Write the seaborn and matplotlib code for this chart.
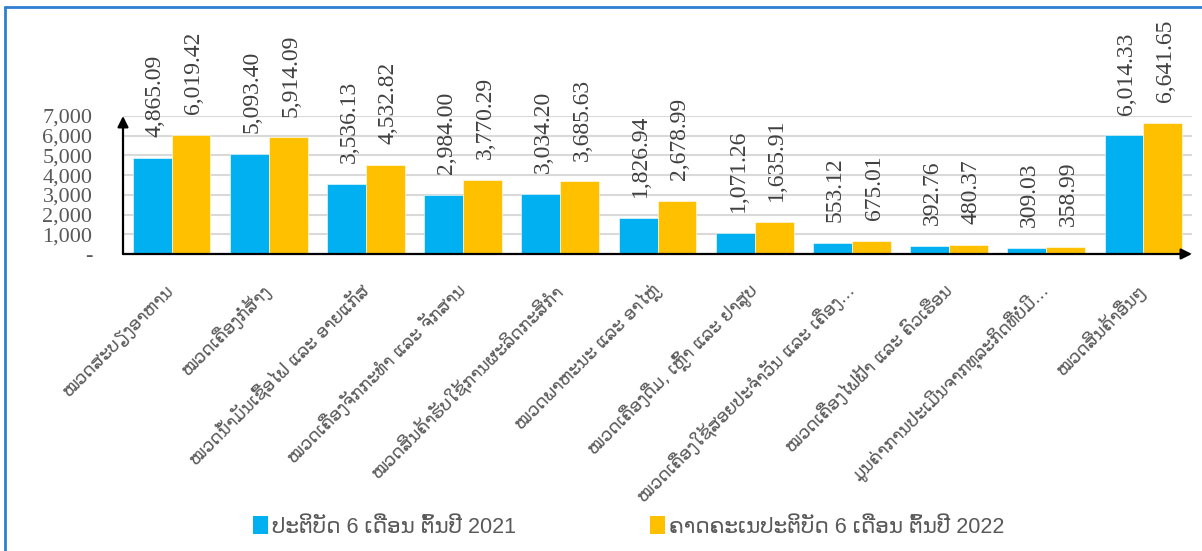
import matplotlib
matplotlib.use('Agg')
import matplotlib.pyplot as plt
from matplotlib.lines import Line2D
from matplotlib.patches import Patch
import seaborn as sns
import pandas as pd

# data
categories = [
    'ໝວດສະບຽງອາຫານ',
    'ໝວດເຄື່ອງກໍ່ສ້າງ',
    'ໝວດນ້ຳມັນເຊື້ອໄຟ ແລະ ອາຍແກັສ',
    'ໝວດເຄື່ອງຈັກກະທຳ ແລະ ຈັກສານ',
    'ໝວດສິນຄ້າຮັບໃຊ້ການຜະລິດກະສິກຳ',
    'ໝວດພາຫະນະ ແລະ ອາໄຫຼ່',
    'ໝວດເຄື່ອງດື່ມ, ເຫຼົ້າ ແລະ ຢາສູບ',
    'ໝວດເຄື່ອງໃຊ້ສອຍປະຈຳວັນ ແລະ ເຄື່ອງ…',
    'ໝວດເຄື່ອງໄຟຟ້າ ແລະ ຄົວເຮືອນ',
    'ມູນຄ່າການປະເມີນຈາກທຸລະກິດທີ່ບໍ່ມີ…',
    'ໝວດສິນຄ້າອື່ນໆ',
]
series_names = ['ປະຕິບັດ 6 ເດືອນ ຕົ້ນປີ 2021', 'ຄາດຄະເນປະຕິບັດ 6 ເດືອນ ຕົ້ນປີ 2022']
values_2021 = [4865.09, 5093.40, 3536.13, 2984.00, 3034.20, 1826.94, 1071.26, 553.12, 392.76, 309.03, 6014.33]
values_2022 = [6019.42, 5914.09, 4532.82, 3770.29, 3685.63, 2678.99, 1635.91, 675.01, 480.37, 358.99, 6641.65]
y_ticks = [0, 1000, 2000, 3000, 4000, 5000, 6000, 7000]
colors = ['#00B0F0', '#FFC000']

df = pd.DataFrame({
    'category': categories * 2,
    'value': values_2021 + values_2022,
    'series': [series_names[0]] * len(categories) + [series_names[1]] * len(categories),
})

sns.set_theme(style='white')
plt.rcParams['font.family'] = ['Liberation Sans', 'DejaVu Sans']
plt.rcParams['axes.unicode_minus'] = False

W, H = 1202, 551
fig = plt.figure(figsize=(W / 100, H / 100), dpi=100)
ax = fig.add_axes([123 / W, 1 - 254 / H, (1192 - 123) / W, (254 - 116) / H])

sns.barplot(data=df, x='category', y='value', hue='series', palette=colors,
            width=0.8, ax=ax, legend=False, edgecolor='white', linewidth=0.4,
            saturation=1)

ax.set_xlim(-0.5, len(categories) - 0.5)
ax.set_ylim(0, 7000)
ax.set_xlabel('')
ax.set_ylabel('')

# gridlines
ax.set_yticks(y_ticks)
ax.yaxis.grid(True, color='#d9d9d9', linewidth=1.5)
ax.set_axisbelow(True)
for s in ax.spines.values():
    s.set_visible(False)

ylabels = ['-' if v == 0 else f'{v:,.0f}' for v in y_ticks]
ax.set_yticklabels(ylabels, family='Liberation Serif', fontsize=16, color='#595959')
ax.tick_params(axis='y', length=0, pad=22)

ax.set_xticks(range(len(categories)))
ax.set_xticklabels(categories, rotation=45, ha='right', va='center', rotation_mode='anchor',
                   fontsize=12.5, color='#595959', family=['DejaVu Sans'])
ax.tick_params(axis='x', length=0, pad=24)

# arrows for axes
arrow = dict(arrowstyle='-|>', color='black', lw=1.6, mutation_scale=16, shrinkA=0, shrinkB=0)
ax.annotate('', xy=(0, 1.0), xytext=(0, 0), xycoords='axes fraction', arrowprops=arrow)
ax.annotate('', xy=(1.0, 0), xytext=(0, 0), xycoords='axes fraction', arrowprops=arrow)

# value labels
for cont, vals in zip(ax.containers, [values_2021, values_2022]):
    for bar, v in zip(cont, vals):
        ax.annotate(f'{v:,.2f}', xy=(bar.get_x() + bar.get_width() / 2, v),
                    xytext=(2, 15), textcoords='offset points', rotation=90,
                    ha='center', va='bottom', fontsize=17, family='Liberation Serif',
                    color='#404040', annotation_clip=False)

# legend
handles = [Patch(facecolor=c, edgecolor='none') for c in colors]
fig.legend(handles, series_names, loc='center', bbox_to_anchor=(0.523, 1 - 527 / H),
           ncol=2, frameon=False, fontsize=15.5, handlelength=0.7, handleheight=0.9,
           handletextpad=0.2, columnspacing=6.2, labelcolor='#595959')

# chart frame (left and top edges visible)
fig.add_artist(Line2D([5 / W, 5 / W], [0, 1 - 7 / H], transform=fig.transFigure,
                      color='#2E7FD0', lw=2))
fig.add_artist(Line2D([5 / W, 1], [1 - 7 / H, 1 - 7 / H], transform=fig.transFigure,
                      color='#2E7FD0', lw=2))

fig.savefig('out.png', dpi=100)
